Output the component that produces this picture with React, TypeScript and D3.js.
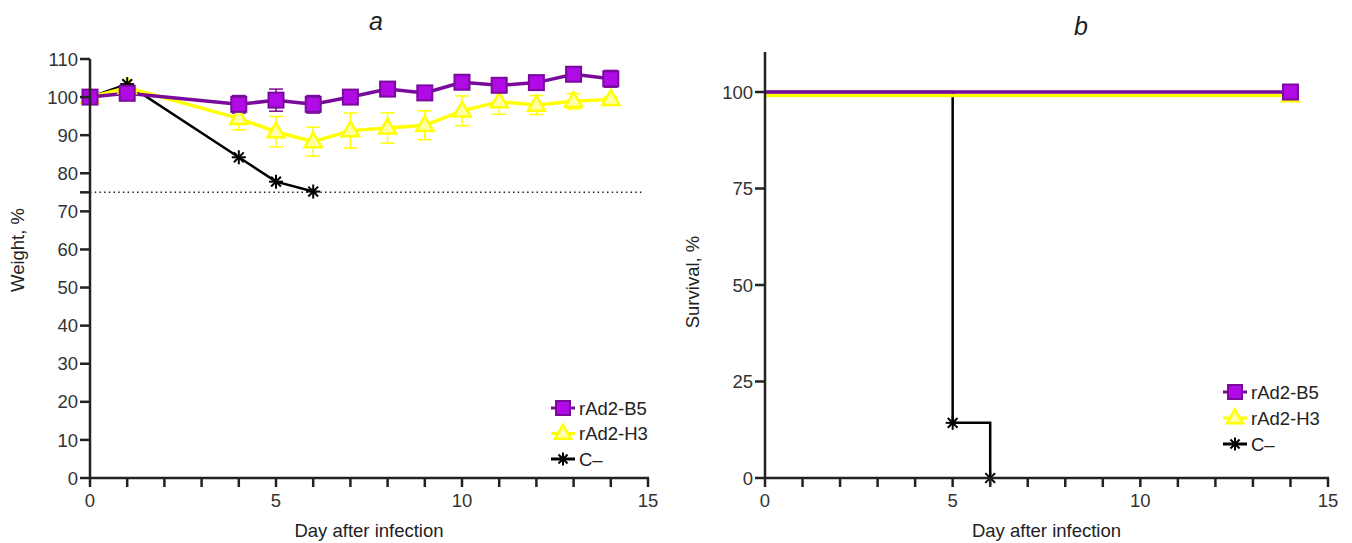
import * as d3 from "d3";

// weight data (panel a)
const days = [0, 1, 4, 5, 6, 7, 8, 9, 10, 11, 12, 13, 14];
const b5Weight = [100, 101, 98.1, 99.2, 98.1, 100, 102.1, 101.1, 103.9, 103.1, 103.8, 106, 104.8];
const b5Err = [0, 0.5, 2.3, 2.9, 2.3, 0.8, 0.8, 0.8, 0.8, 0.8, 0.8, 0.8, 2.2];
const h3Weight = [100, 102.5, 94.4, 90.9, 88.3, 91.2, 91.9, 92.6, 96.4, 98.8, 97.9, 98.9, 99.4];
const h3Err = [0, 0.5, 3, 4, 3.8, 4.6, 4, 3.8, 3.9, 3.3, 2.5, 2, 0.6];
const cDays = [0, 1, 4, 5, 6];
const cWeight = [100, 103.4, 84.2, 77.8, 75.2];
const weightLimit = 75;

// survival data (panel b)
const survB5Days = [0, 14];
const survB5 = [100, 100];
const survH3Days = [0, 14];
const survH3 = [100, 100];
const survCDays = [0, 5, 6];
const survC = [100, 14.29, 0];

const weightTicks = [0, 10, 20, 30, 40, 50, 60, 70, 80, 90, 100, 110];
const survTicks = [0, 25, 50, 75, 100];
const dayTicks = [0, 5, 10, 15];
const dayMinor = d3.range(0, 16);

const seriesNames = ["rAd2-B5", "rAd2-H3", "C–"];

const PURPLE = "#7a0a9c";
const PURPLE_FILL = "#b00ae6";
const YELLOW = "#ffff00";
const YELLOW_FILL = "#ffffa8";
const AXIS = "#222";
const FONT = "'Liberation Sans', Arial, sans-serif";
const FS = 18.5;

const Square = ({ x, y, s = 15 }) => (
  <rect x={x - s / 2} y={y - s / 2} width={s} height={s} fill={PURPLE_FILL} stroke={PURPLE} strokeWidth={2} />
);

const Triangle = ({ x, y, s = 17 }) => {
  const h = s * 0.87;
  return (
    <path
      d={`M${x},${y - h * 0.62}L${x + s / 2},${y + h * 0.38}L${x - s / 2},${y + h * 0.38}Z`}
      fill={YELLOW_FILL}
      stroke={YELLOW}
      strokeWidth={2.5}
    />
  );
};

const Star = ({ x, y, r = 7 }) => (
  <g stroke="#000" strokeWidth={2}>
    <line x1={x - r} y1={y} x2={x + r} y2={y} />
    <line x1={x} y1={y - r} x2={x} y2={y + r} />
    <line x1={x - r * 0.7} y1={y - r * 0.7} x2={x + r * 0.7} y2={y + r * 0.7} />
    <line x1={x - r * 0.7} y1={y + r * 0.7} x2={x + r * 0.7} y2={y - r * 0.7} />
  </g>
);

const Legend = ({ x, y, gap }) => (
  <g fontFamily={FONT} fontSize={FS} fill="#222">
    {seriesNames.map((name, i) => {
      const cy = y + i * gap;
      const color = i === 0 ? PURPLE : i === 1 ? YELLOW : "#000";
      return (
        <g key={name}>
          <line x1={x - 12} x2={x + 12} y1={cy} y2={cy} stroke={color} strokeWidth={3} />
          {i === 0 && <Square x={x} y={cy} s={14} />}
          {i === 1 && <Triangle x={x} y={cy} s={16} />}
          {i === 2 && <Star x={x} y={cy} r={6.5} />}
          <text x={x + 16} y={cy} dy="0.36em">{name}</text>
        </g>
      );
    })}
  </g>
);

const XAxis = ({ x, y0 }) => (
  <g>
    <line x1={x(0) - 1} x2={x(15) + 1} y1={y0} y2={y0} stroke={AXIS} strokeWidth={2.5} />
    {dayMinor.map((d) => (
      <line key={d} x1={x(d)} x2={x(d)} y1={y0} y2={y0 + 9} stroke={AXIS} strokeWidth={2.5} />
    ))}
    {dayTicks.map((d) => (
      <text key={d} x={x(d)} y={y0 + 29} textAnchor="middle" fontFamily={FONT} fontSize={FS} fill="#333">
        {d}
      </text>
    ))}
    <text x={(x(0) + x(15)) / 2} y={y0 + 59} textAnchor="middle" fontFamily={FONT} fontSize={FS} fill="#222">
      Day after infection
    </text>
  </g>
);

const YAxis = ({ y, x0, ticks, top, label, labelY, extra = [] }) => (
  <g>
    <line x1={x0} x2={x0} y1={top} y2={y(0) + 1} stroke={AXIS} strokeWidth={2.5} />
    {ticks.concat(extra).map((t) => (
      <line key={t} x1={x0 - 10} x2={x0} y1={y(t)} y2={y(t)} stroke={AXIS} strokeWidth={2.5} />
    ))}
    {ticks.map((t) => (
      <text key={t} x={x0 - 12} y={y(t)} dy="0.36em" textAnchor="end" fontFamily={FONT} fontSize={FS} fill="#333">
        {t}
      </text>
    ))}
    <text
      transform={`translate(${x0 - 66},${labelY}) rotate(-90)`}
      textAnchor="middle"
      fontFamily={FONT}
      fontSize={FS}
      fill="#222"
    >
      {label}
    </text>
  </g>
);

const ErrorBars = ({ x, y, vals, errs, color, width }) => (
  <g stroke={color} strokeWidth={width}>
    {days.map((d, i) =>
      errs[i] > 0 ? (
        <g key={d}>
          <line x1={x(d)} x2={x(d)} y1={y(vals[i] + errs[i])} y2={y(vals[i] - errs[i])} />
          <line x1={x(d) - 7} x2={x(d) + 7} y1={y(vals[i] + errs[i])} y2={y(vals[i] + errs[i])} />
          <line x1={x(d) - 7} x2={x(d) + 7} y1={y(vals[i] - errs[i])} y2={y(vals[i] - errs[i])} />
        </g>
      ) : null
    )}
  </g>
);

const WeightPanel = () => {
  const x = d3.scaleLinear().domain([0, 15]).range([90, 648]);
  const y = d3.scaleLinear().domain([0, 110]).range([478, 59]);
  const line = d3.line<number>().x((d, i) => x(days[i])).y((d) => y(d));
  const cLine = d3.line<number>().x((d, i) => x(cDays[i])).y((d) => y(d));
  return (
    <g>
      <text x={376} y={30} textAnchor="middle" fontFamily={FONT} fontStyle="italic" fontSize={25} fill="#222">
        a
      </text>
      <line
        x1={x(0)}
        x2={x(14.85)}
        y1={y(weightLimit)}
        y2={y(weightLimit)}
        stroke="#222"
        strokeWidth={1.5}
        strokeDasharray="1.5 3.2"
      />
      <ErrorBars x={x} y={y} vals={h3Weight} errs={h3Err} color={YELLOW} width={1.5} />
      <ErrorBars x={x} y={y} vals={b5Weight} errs={b5Err} color={PURPLE} width={1.5} />
      <path d={cLine(cWeight) || ""} fill="none" stroke="#000" strokeWidth={2.5} />
      <path d={line(h3Weight) || ""} fill="none" stroke={YELLOW} strokeWidth={3.5} />
      <path d={line(b5Weight) || ""} fill="none" stroke={PURPLE} strokeWidth={3.5} />
      {h3Weight.map((v, i) => (
        <Triangle key={i} x={x(days[i])} y={y(v)} />
      ))}
      {cWeight.map((v, i) => (
        <Star key={i} x={x(cDays[i])} y={y(v)} />
      ))}
      {b5Weight.map((v, i) => (
        <Square key={i} x={x(days[i])} y={y(v)} />
      ))}
      <XAxis x={x} y0={y(0)} />
      <YAxis y={y} x0={x(0)} ticks={weightTicks} top={y(110)} label="Weight, %" labelY={250} extra={[75]} />
      <Legend x={563} y={408} gap={25.5} />
    </g>
  );
};

const SurvivalPanel = () => {
  const x = d3.scaleLinear().domain([0, 15]).range([765, 1328]);
  const y = d3.scaleLinear().domain([0, 100]).range([478, 92]);
  const step = d3.line<number>().curve(d3.curveStepAfter);
  const pts = (ds: number[], vs: number[]) => ds.map((d, i) => [x(d), y(vs[i])] as [number, number]);
  return (
    <g>
      <text x={1081} y={35} textAnchor="middle" fontFamily={FONT} fontStyle="italic" fontSize={25} fill="#222">
        b
      </text>
      <path d={step(pts(survCDays, survC) as any) || ""} fill="none" stroke="#000" strokeWidth={2.5} />
      <g transform="translate(0,3.6)">
        <path d={step(pts(survH3Days, survH3) as any) || ""} fill="none" stroke={YELLOW} strokeWidth={3.5} />
        <Triangle x={x(survH3Days[1])} y={y(survH3[1])} />
      </g>
      <path d={step(pts(survB5Days, survB5) as any) || ""} fill="none" stroke={PURPLE} strokeWidth={3.5} />
      <Square x={x(survB5Days[1])} y={y(survB5[1])} />
      {survCDays.slice(1).map((d, i) => (
        <Star key={d} x={x(d)} y={y(survC[i + 1])} />
      ))}
      <XAxis x={x} y0={y(0)} />
      <YAxis y={y} x0={x(0)} ticks={survTicks} top={52} label="Survival, %" labelY={282} />
      <Legend x={1235} y={392} gap={26} />
    </g>
  );
};

export default function App() {
  return (
    <svg width={1352} height={543} style={{ position: "absolute", left: 0, top: 0, background: "#fff" }}>
      <rect width={1352} height={543} fill="#fff" />
      <WeightPanel />
      <SurvivalPanel />
    </svg>
  );
}
